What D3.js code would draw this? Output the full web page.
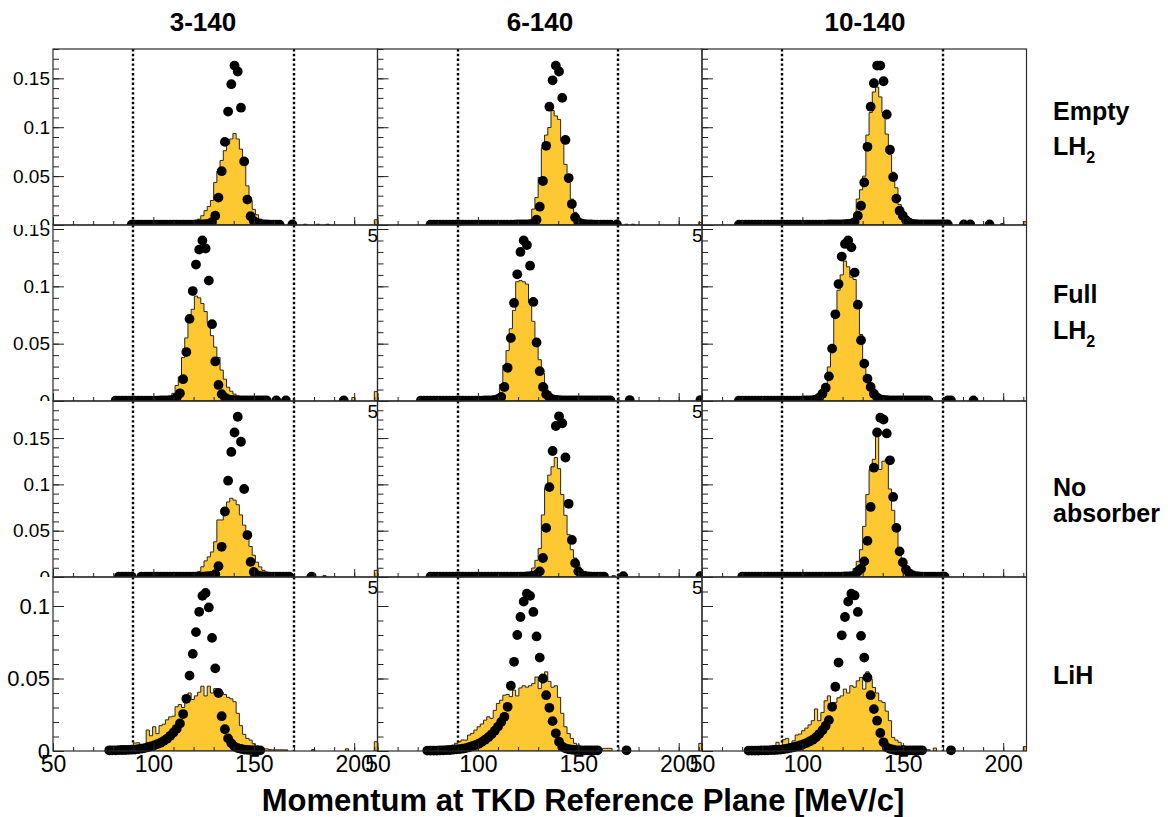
<!DOCTYPE html>
<html><head><meta charset="utf-8">
<script src="https://cdn.jsdelivr.net/npm/d3@7"></script>
<style>html,body{margin:0;padding:0;background:#fff}svg{display:block}</style>
</head><body>
<svg id="c" width="1168" height="817"></svg>
<script>
// ---------------- data ----------------
const colTitles = ["3-140", "6-140", "10-140"];
const rowLabels = [[["Empty", ""], ["LH", "2"]], [["Full", ""], ["LH", "2"]], [["No", ""], ["absorber", ""]], [["LiH", ""]]];
const xTitle = "Momentum at TKD Reference Plane [MeV/c]";
const xTickLabels = [50, 100, 150, 200];
const yTickLabels = [[0, 0.05, 0.1, 0.15], [0, 0.05, 0.1, 0.15], [0, 0.05, 0.1, 0.15], [0, 0.05, 0.1]];
const yMax = [0.18, 0.1535, 0.19, 0.12];
const xDomain = [50, 211.6];
const binWidth = 1.6;
const cuts = [90, 170];

// histograms: [bin low edge, value]
const histR1C1 = [[118.8,.0015],[120.4,.003],[122.0,.006],[123.6,.0095],[125.2,.0146],[126.8,.019],[128.4,.025],[130.0,.0435],[131.6,.055],[133.2,.066],[134.8,.076],[136.4,.083],[138.0,.088],[139.6,.0935],[141.2,.088],[142.8,.0776],[144.4,.062],[146.0,.040],[147.6,.025],[149.2,.016],[150.8,.0105],[152.4,.006],[154.0,.0037],[155.6,.0027],[157.2,.002],[158.8,.0015],[160.4,.001],[162.0,.001],[163.6,.0008],[174.8,.0008],[181.2,.0008],[186.0,.0008],[210.0,.0054]];
const histR1C2 = [[120.4,.001],[122.0,.002],[123.6,.003],[125.2,.0044],[126.8,.0163],[128.4,.028],[130.0,.0486],[131.6,.079],[133.2,.092],[134.8,.0997],[136.4,.117],[138.0,.1116],[139.6,.108],[141.2,.086],[142.8,.062],[144.4,.0435],[146.0,.0265],[147.6,.013],[149.2,.0078],[150.8,.0044],[152.4,.0027],[154.0,.0015],[155.6,.001],[157.2,.001],[158.8,.0008],[173.2,.0008],[176.4,.0008],[210.0,.0027]];
const histR1C3 = [[123.6,.0015],[125.2,.003],[126.8,.0265],[128.4,.036],[130.0,.050],[131.6,.092],[133.2,.115],[134.8,.136],[136.4,.141],[138.0,.131],[139.6,.115],[141.2,.093],[142.8,.072],[144.4,.054],[146.0,.038],[147.6,.021],[149.2,.0095],[150.8,.0044],[152.4,.002],[154.0,.0012],[155.6,.001],[157.2,.0008],[198.8,.0015],[210.0,.0034]];
const histR2C1 = [[104.4,.0015],[106.0,.002],[107.6,.003],[109.2,.0067],[110.8,.0135],[112.4,.021],[114.0,.038],[115.6,.055],[117.2,.069],[118.8,.080],[120.4,.0915],[122.0,.090],[123.6,.085],[125.2,.078],[126.8,.068],[128.4,.057],[130.0,.047],[131.6,.038],[133.2,.027],[134.8,.019],[136.4,.012],[138.0,.0085],[139.6,.006],[141.2,.0045],[142.8,.0035],[144.4,.003],[146.0,.0025],[147.6,.002],[149.2,.002],[150.8,.0015],[152.4,.0015],[154.0,.001],[155.6,.001],[198.8,.003],[210.0,.0082]];
const histR2C2 = [[107.6,.002],[109.2,.004],[110.8,.0145],[112.4,.031],[114.0,.044],[115.6,.063],[117.2,.079],[118.8,.104],[120.4,.105],[122.0,.104],[123.6,.102],[125.2,.086],[126.8,.0695],[128.4,.052],[130.0,.036],[131.6,.024],[133.2,.0137],[134.8,.008],[136.4,.005],[138.0,.0035],[139.6,.003],[141.2,.0025],[142.8,.002],[144.4,.002],[146.0,.0015],[147.6,.0015],[149.2,.001]];
const histR2C3 = [[104.4,.0015],[106.0,.002],[107.6,.003],[109.2,.0093],[110.8,.0137],[112.4,.0297],[114.0,.047],[115.6,.074],[117.2,.0966],[118.8,.110],[120.4,.122],[122.0,.117],[123.6,.108],[125.2,.106],[126.8,.081],[128.4,.058],[130.0,.034],[131.6,.0224],[133.2,.0137],[134.8,.0075],[136.4,.005],[138.0,.0035],[139.6,.0025],[141.2,.002],[142.8,.0015],[144.4,.0015],[146.0,.001]];
const histR3C1 = [[118.8,.002],[120.4,.004],[122.0,.006],[123.6,.011],[125.2,.0174],[126.8,.0217],[128.4,.027],[130.0,.038],[131.6,.0616],[133.2,.0616],[134.8,.072],[136.4,.081],[138.0,.085],[139.6,.083],[141.2,.078],[142.8,.067],[144.4,.056],[146.0,.045],[147.6,.033],[149.2,.0235],[150.8,.016],[152.4,.0109],[154.0,.0072],[155.6,.0054],[157.2,.004],[158.8,.0036],[160.4,.003],[162.0,.003],[163.6,.002],[165.2,.002],[176.4,.0015],[184.4,.0015],[210.0,.0072]];
const histR3C2 = [[123.6,.002],[125.2,.0045],[126.8,.0097],[128.4,.018],[130.0,.0306],[131.6,.067],[133.2,.096],[134.8,.11],[136.4,.119],[138.0,.129],[139.6,.117],[141.2,.089],[142.8,.0666],[144.4,.0457],[146.0,.0295],[147.6,.0205],[149.2,.0133],[150.8,.0079],[152.4,.006],[154.0,.0043],[155.6,.003],[157.2,.0025],[158.8,.002],[166.8,.0015]];
const histR3C3 = [[122.0,.002],[123.6,.004],[125.2,.009],[126.8,.0169],[128.4,.0295],[130.0,.0547],[131.6,.089],[133.2,.116],[134.8,.127],[136.4,.152],[138.0,.116],[139.6,.125],[141.2,.127],[142.8,.095],[144.4,.072],[146.0,.050],[147.6,.031],[149.2,.017],[150.8,.0085],[152.4,.005],[154.0,.0035],[155.6,.0025],[157.2,.002]];
const histR4C1 = [[90.0,.0055],[91.6,.0057],[93.2,.0025],[94.8,.002],[96.4,.0145],[98.0,.0105],[99.6,.0167],[101.2,.012],[102.8,.0175],[104.4,.0185],[106.0,.0215],[107.6,.0235],[109.2,.024],[110.8,.0305],[112.4,.032],[114.0,.030],[115.6,.0355],[117.2,.040],[118.8,.0355],[120.4,.038],[122.0,.0405],[123.6,.0447],[125.2,.038],[126.8,.0447],[128.4,.040],[130.0,.043],[131.6,.0405],[133.2,.0405],[134.8,.039],[136.4,.037],[138.0,.036],[139.6,.034],[141.2,.026],[142.8,.0175],[144.4,.0115],[146.0,.0087],[147.6,.0075],[149.2,.005],[150.8,.0035],[152.4,.0025],[154.0,.0015],[155.6,.0015],[157.2,.001],[158.8,.0008],[160.4,.0008],[162.0,.0008],[163.6,.0008],[165.2,.0008],[178.8,.001],[195.6,.0015],[210.0,.0064]];
const histR4C2 = [[86.8,.004],[88.4,.0053],[90.0,.0064],[91.6,.0076],[93.2,.0075],[94.8,.011],[96.4,.0122],[98.0,.0144],[99.6,.0167],[101.2,.0186],[102.8,.0213],[104.4,.0236],[106.0,.0225],[107.6,.028],[109.2,.0328],[110.8,.035],[112.4,.0385],[114.0,.039],[115.6,.0375],[117.2,.042],[118.8,.038],[120.4,.0435],[122.0,.045],[123.6,.044],[125.2,.045],[126.8,.0465],[128.4,.051],[130.0,.043],[131.6,.047],[133.2,.0546],[134.8,.048],[136.4,.044],[138.0,.045],[139.6,.037],[141.2,.026],[142.8,.0167],[144.4,.012],[146.0,.0087],[147.6,.0053],[149.2,.004],[150.8,.003],[152.4,.003],[154.0,.0015],[155.6,.0015],[157.2,.0015],[158.8,.0015],[162.0,.0018],[163.6,.0018],[165.2,.0018],[210.0,.0053]];
const histR4C3 = [[86.8,.006],[88.4,.0014],[90.0,.0078],[91.6,.0087],[93.2,.005],[94.8,.007],[96.4,.011],[98.0,.0117],[99.6,.014],[101.2,.0158],[102.8,.018],[104.4,.0209],[106.0,.029],[107.6,.0209],[109.2,.0266],[110.8,.0346],[112.4,.038],[114.0,.0323],[115.6,.0335],[117.2,.0367],[118.8,.038],[120.4,.0427],[122.0,.040],[123.6,.045],[125.2,.044],[126.8,.0484],[128.4,.0507],[130.0,.0427],[131.6,.0546],[133.2,.0495],[134.8,.0438],[136.4,.040],[138.0,.0346],[139.6,.0335],[141.2,.0275],[142.8,.0209],[144.4,.0094],[146.0,.0075],[147.6,.006],[149.2,.0037],[150.8,.0025],[152.4,.0018],[154.0,.0018],[155.6,.0009],[157.2,.0009],[158.8,.0009],[160.4,.0009],[162.0,.0009],[165.2,.002],[210.0,.003]];

// markers: [momentum, value]
const dotsR1C1 = [[89.2,.0004],[90.8,.0004],[92.4,.0004],[94.0,.0004],[95.6,.0004],[97.2,.0004],[98.8,.0004],[100.4,.0004],[102.0,.0004],[103.6,.0004],[105.2,.0004],[106.8,.0004],[108.4,.0004],[110.0,.0004],[111.6,.0004],[113.2,.0004],[114.8,.0004],[116.4,.0004],[118.0,.0004],[119.6,.0004],[121.2,.0005],[122.8,.0005],[124.4,.0006],[126.0,.0008],[127.6,.0012],[129.2,.003],[130.8,.0095],[132.4,.028],[134.0,.055],[135.6,.085],[137.2,.116],[138.8,.144],[140.4,.163],[142.0,.157],[143.6,.120],[145.2,.065],[146.8,.026],[148.4,.009],[150.0,.004],[151.6,.002],[153.2,.001],[154.8,.0007],[156.4,.0005],[158.0,.0004],[159.6,.0004],[161.2,.0004],[162.8,.0004],[169.2,.0005]];
const dotsR1C2 = [[76.4,.0004],[78.0,.0004],[79.6,.0004],[81.2,.0004],[82.8,.0004],[84.4,.0004],[86.0,.0004],[87.6,.0004],[89.2,.0004],[90.8,.0004],[92.4,.0004],[94.0,.0004],[95.6,.0004],[97.2,.0004],[98.8,.0004],[100.4,.0004],[102.0,.0004],[103.6,.0004],[105.2,.0004],[106.8,.0004],[108.4,.0004],[110.0,.0004],[111.6,.0004],[113.2,.0004],[114.8,.0004],[116.4,.0004],[118.0,.0004],[119.6,.0005],[121.2,.0005],[122.8,.0006],[124.4,.0007],[126.0,.0009],[127.6,.0015],[129.2,.0054],[130.8,.0187],[132.4,.045],[134.0,.081],[135.6,.121],[137.2,.148],[138.8,.163],[140.4,.157],[142.0,.130],[143.6,.087],[145.2,.048],[146.8,.0214],[148.4,.0078],[150.0,.003],[151.6,.0015],[153.2,.0008],[154.8,.0005],[156.4,.0005],[158.0,.0004],[159.6,.0004],[161.2,.0004],[162.8,.0004],[164.4,.0004],[166.0,.0004],[169.2,.0006]];
const dotsR1C3 = [[68.4,.0004],[70.0,.0004],[71.6,.0004],[73.2,.0004],[74.8,.0004],[76.4,.0004],[78.0,.0004],[79.6,.0004],[81.2,.0004],[82.8,.0004],[84.4,.0004],[86.0,.0004],[87.6,.0004],[89.2,.0004],[90.8,.0004],[92.4,.0004],[94.0,.0004],[95.6,.0004],[97.2,.0004],[98.8,.0004],[100.4,.0004],[102.0,.0004],[103.6,.0004],[105.2,.0004],[106.8,.0004],[108.4,.0004],[110.0,.0004],[111.6,.0004],[113.2,.0005],[114.8,.0005],[116.4,.0005],[118.0,.0006],[119.6,.0006],[121.2,.0008],[122.8,.001],[124.4,.0015],[126.0,.003],[127.6,.0095],[129.2,.0197],[130.8,.0435],[132.4,.080],[134.0,.121],[135.6,.145],[137.2,.163],[138.8,.163],[140.4,.147],[142.0,.113],[143.6,.077],[145.2,.049],[146.8,.027],[148.4,.0146],[150.0,.0095],[151.6,.005],[153.2,.0025],[154.8,.0012],[156.4,.0008],[158.0,.0006],[159.6,.0005],[161.2,.0005],[162.8,.0005],[164.4,.0005],[166.0,.0005],[167.6,.0005],[169.2,.0005],[170.8,.0005],[172.4,.0005],[180.4,.0005],[183.6,.0005],[193.2,.0005]];
const dotsR2C1 = [[81.2,.0004],[82.8,.0004],[84.4,.0004],[86.0,.0004],[87.6,.0004],[89.2,.0004],[90.8,.0004],[92.4,.0004],[94.0,.0004],[95.6,.0004],[97.2,.0004],[98.8,.0004],[100.4,.0004],[102.0,.0004],[103.6,.0005],[105.2,.0005],[106.8,.0006],[108.4,.0008],[110.0,.0012],[111.6,.003],[113.2,.0067],[114.8,.019],[116.4,.0427],[118.0,.0716],[119.6,.0959],[121.2,.119],[122.8,.132],[124.4,.140],[126.0,.133],[127.6,.105],[129.2,.067],[130.8,.0345],[132.4,.014],[134.0,.006],[135.6,.003],[137.2,.0015],[138.8,.001],[140.4,.0008],[142.0,.0006],[143.6,.0005],[145.2,.0005],[146.8,.0005],[148.4,.0005],[150.0,.0005],[151.6,.0005],[153.2,.0005],[154.8,.0005],[156.4,.0005],[161.2,.0005],[166.0,.0005],[194.8,.0005]];
const dotsR2C2 = [[71.6,.0004],[73.2,.0004],[74.8,.0004],[76.4,.0004],[78.0,.0004],[79.6,.0004],[81.2,.0004],[82.8,.0004],[84.4,.0004],[86.0,.0004],[87.6,.0004],[89.2,.0004],[90.8,.0004],[92.4,.0004],[94.0,.0004],[95.6,.0004],[97.2,.0004],[98.8,.0004],[100.4,.0004],[102.0,.0004],[103.6,.0005],[105.2,.0005],[106.8,.0006],[108.4,.0009],[110.0,.0018],[111.6,.0035],[113.2,.0122],[114.8,.029],[116.4,.055],[118.0,.0855],[119.6,.1105],[121.2,.130],[122.8,.140],[124.4,.136],[126.0,.118],[127.6,.0864],[129.2,.051],[130.8,.026],[132.4,.0122],[134.0,.0058],[135.6,.003],[137.2,.0015],[138.8,.001],[140.4,.0008],[142.0,.0006],[143.6,.0005],[145.2,.0005],[146.8,.0005],[148.4,.0005],[150.0,.0005],[151.6,.0005],[153.2,.0005],[154.8,.0005],[156.4,.0005],[158.0,.0005],[159.6,.0005],[161.2,.0005],[162.8,.0005],[164.4,.0005],[166.0,.0005],[175.6,.0008],[210.8,.0008]];
const dotsR2C3 = [[68.4,.0004],[70.0,.0004],[71.6,.0004],[73.2,.0004],[74.8,.0004],[76.4,.0004],[78.0,.0004],[79.6,.0004],[81.2,.0004],[82.8,.0004],[84.4,.0004],[86.0,.0004],[87.6,.0004],[89.2,.0004],[90.8,.0004],[92.4,.0004],[94.0,.0004],[95.6,.0004],[97.2,.0004],[98.8,.0004],[100.4,.0005],[102.0,.0005],[103.6,.0006],[105.2,.0008],[106.8,.0012],[108.4,.003],[110.0,.0064],[111.6,.0116],[113.2,.0215],[114.8,.0457],[116.4,.0756],[118.0,.102],[119.6,.126],[121.2,.137],[122.8,.140],[124.4,.134],[126.0,.112],[127.6,.084],[129.2,.053],[130.8,.0326],[132.4,.0195],[134.0,.0122],[135.6,.0064],[137.2,.003],[138.8,.0015],[140.4,.001],[142.0,.0007],[143.6,.0005],[145.2,.0005],[146.8,.0005],[148.4,.0005],[150.0,.0005],[151.6,.0005],[153.2,.0005],[154.8,.0005],[156.4,.0005],[158.0,.0005],[159.6,.0005],[161.2,.0005],[162.8,.0005],[172.4,.0005],[174.0,.0005],[185.2,.0005]];
const dotsR3C1 = [[82.8,.0004],[84.4,.0004],[86.0,.0004],[87.6,.0004],[89.2,.0004],[94.0,.0004],[95.6,.0004],[97.2,.0004],[98.8,.0004],[100.4,.0004],[102.0,.0004],[103.6,.0004],[105.2,.0004],[106.8,.0004],[108.4,.0004],[110.0,.0004],[111.6,.0004],[113.2,.0004],[114.8,.0004],[116.4,.0004],[118.0,.0004],[119.6,.0004],[121.2,.0004],[122.8,.0005],[124.4,.0005],[126.0,.0006],[127.6,.0008],[129.2,.0012],[130.8,.003],[132.4,.0116],[134.0,.0326],[135.6,.0707],[137.2,.104],[138.8,.135],[140.4,.156],[142.0,.173],[143.6,.146],[145.2,.095],[146.8,.0453],[148.4,.0163],[150.0,.0054],[151.6,.002],[153.2,.001],[154.8,.0007],[156.4,.0005],[158.0,.0005],[159.6,.0005],[161.2,.0005],[162.8,.0005],[164.4,.0005],[166.0,.0005],[167.6,.0005],[178.8,.0005]];
const dotsR3C2 = [[76.4,.0004],[78.0,.0004],[79.6,.0004],[81.2,.0004],[82.8,.0004],[84.4,.0004],[86.0,.0004],[87.6,.0004],[89.2,.0004],[90.8,.0004],[92.4,.0004],[94.0,.0004],[95.6,.0004],[97.2,.0004],[98.8,.0004],[100.4,.0004],[102.0,.0004],[103.6,.0004],[105.2,.0004],[106.8,.0004],[108.4,.0004],[110.0,.0004],[111.6,.0004],[113.2,.0004],[114.8,.0004],[116.4,.0004],[118.0,.0004],[119.6,.0004],[121.2,.0005],[122.8,.0005],[124.4,.0006],[126.0,.0008],[127.6,.0012],[129.2,.0025],[130.8,.0061],[132.4,.0205],[134.0,.053],[135.6,.097],[137.2,.136],[138.8,.163],[140.4,.1735],[142.0,.166],[143.6,.129],[145.2,.079],[146.8,.040],[148.4,.015],[150.0,.0061],[151.6,.002],[153.2,.001],[154.8,.0007],[156.4,.0005],[158.0,.0005],[159.6,.0005],[161.2,.0005],[162.8,.0005],[172.4,.0008],[210.8,.0008]];
const dotsR3C3 = [[70.0,.0004],[71.6,.0004],[73.2,.0004],[74.8,.0004],[76.4,.0004],[78.0,.0004],[79.6,.0004],[81.2,.0004],[82.8,.0004],[84.4,.0004],[86.0,.0004],[87.6,.0004],[89.2,.0004],[90.8,.0004],[92.4,.0004],[94.0,.0004],[95.6,.0004],[97.2,.0004],[98.8,.0004],[100.4,.0004],[102.0,.0004],[103.6,.0004],[105.2,.0004],[106.8,.0004],[108.4,.0004],[110.0,.0004],[111.6,.0004],[113.2,.0004],[114.8,.0004],[116.4,.0004],[118.0,.0005],[119.6,.0005],[121.2,.0006],[122.8,.0007],[124.4,.001],[126.0,.0015],[127.6,.006],[129.2,.009],[130.8,.0169],[132.4,.039],[134.0,.0756],[135.6,.118],[137.2,.156],[138.8,.172],[140.4,.170],[142.0,.155],[143.6,.126],[145.2,.0864],[146.8,.053],[148.4,.0277],[150.0,.0158],[151.6,.008],[153.2,.004],[154.8,.002],[156.4,.001],[158.0,.0007],[159.6,.0005],[161.2,.0005],[162.8,.0005],[164.4,.0005],[166.0,.0005],[167.6,.0005],[169.2,.0005],[170.8,.0005]];
const dotsR4C1 = [[78.0,.0005],[79.6,.0005],[81.2,.0005],[82.8,.0006],[84.4,.0007],[86.0,.0007],[87.6,.0008],[89.2,.0009],[90.8,.001],[92.4,.0013],[94.0,.0016],[95.6,.002],[97.2,.0026],[98.8,.0032],[100.4,.0039],[102.0,.0048],[103.6,.0057],[105.2,.007],[106.8,.0085],[108.4,.0105],[110.0,.0128],[111.6,.0153],[113.2,.019],[114.8,.0255],[116.4,.036],[118.0,.052],[119.6,.067],[121.2,.082],[122.8,.096],[124.4,.107],[126.0,.109],[127.6,.099],[129.2,.078],[130.8,.057],[132.4,.040],[134.0,.024],[135.6,.015],[137.2,.0087],[138.8,.0053],[140.4,.003],[142.0,.002],[143.6,.0015],[145.2,.001],[146.8,.0008],[148.4,.0006],[150.0,.0005],[151.6,.0005],[153.2,.0005]];
const dotsR4C2 = [[74.8,.0003],[76.4,.0003],[78.0,.0003],[79.6,.0003],[81.2,.0004],[82.8,.0005],[84.4,.0006],[86.0,.0007],[87.6,.0009],[89.2,.0011],[90.8,.0013],[92.4,.0016],[94.0,.002],[95.6,.0026],[97.2,.0033],[98.8,.0041],[100.4,.005],[102.0,.0063],[103.6,.0078],[105.2,.0095],[106.8,.0115],[108.4,.014],[110.0,.0168],[111.6,.020],[113.2,.0236],[114.8,.0305],[116.4,.045],[118.0,.0615],[119.6,.080],[121.2,.0924],[122.8,.103],[124.4,.1085],[126.0,.107],[127.6,.0959],[129.2,.079],[130.8,.0644],[132.4,.050],[134.0,.0385],[135.6,.0298],[137.2,.0206],[138.8,.0122],[140.4,.0064],[142.0,.003],[143.6,.0018],[145.2,.0012],[146.8,.0009],[148.4,.0007],[150.0,.0006],[151.6,.0005],[153.2,.0005],[154.8,.0005],[156.4,.0005],[158.0,.0005],[159.6,.0005],[174.0,.0005]];
const dotsR4C3 = [[73.2,.0003],[74.8,.0003],[76.4,.0003],[78.0,.0003],[79.6,.0004],[81.2,.0004],[82.8,.0005],[84.4,.0006],[86.0,.0007],[87.6,.0008],[89.2,.001],[90.8,.0013],[92.4,.0017],[94.0,.0021],[95.6,.0026],[97.2,.0032],[98.8,.0038],[100.4,.0046],[102.0,.0055],[103.6,.0066],[105.2,.0078],[106.8,.0095],[108.4,.0117],[110.0,.0143],[111.6,.0174],[113.2,.0213],[114.8,.0305],[116.4,.0443],[118.0,.061],[119.6,.0798],[121.2,.0924],[122.8,.103],[124.4,.1085],[126.0,.1073],[127.6,.0959],[129.2,.0794],[130.8,.0644],[132.4,.0507],[134.0,.0385],[135.6,.0289],[137.2,.0209],[138.8,.0124],[140.4,.006],[142.0,.0025],[143.6,.0015],[145.2,.001],[146.8,.0005],[148.4,.0005],[150.0,.0005],[151.6,.0005],[153.2,.0005],[154.8,.0005],[156.4,.0005],[158.0,.0005],[159.6,.0005],[174.0,.0005]];

const panelHists = [[histR1C1, histR1C2, histR1C3], [histR2C1, histR2C2, histR2C3], [histR3C1, histR3C2, histR3C3], [histR4C1, histR4C2, histR4C3]];
const panelDots = [[dotsR1C1, dotsR1C2, dotsR1C3], [dotsR2C1, dotsR2C2, dotsR2C3], [dotsR3C1, dotsR3C2, dotsR3C3], [dotsR4C1, dotsR4C2, dotsR4C3]];

// ---------------- layout / drawing ----------------
const FONT = "'Liberation Sans', Arial, Helvetica, sans-serif";
const colLeft = [53, 377.5, 702], plotW = 324.5;
const rowTop = [49, 225, 401, 577], rowBottom = [225, 401, 577, 751];
const FILL = "#fec833";

const svg = d3.select("#c");
svg.append("rect").attr("width", 1168).attr("height", 817).attr("fill", "#fff");
const defs = svg.append("defs");
let clipN = 0;
function clip(x, y, w, h) {
  const id = "clp" + (clipN++);
  defs.append("clipPath").attr("id", id).append("rect").attr("x", x).attr("y", y).attr("width", w).attr("height", h);
  return `url(#${id})`;
}
function styleAxis(sel, size) {
  sel.attr("font-family", FONT).attr("font-size", size).attr("color", "#000");
  sel.select(".domain").remove();
  sel.selectAll(".tick line").attr("stroke", "#222").attr("stroke-width", 1);
}

for (let r = 0; r < 4; r++) {
  for (let c = 0; c < 3; c++) {
    const L = colLeft[c], T = rowTop[r], B = rowBottom[r];
    const x = d3.scaleLinear().domain(xDomain).range([L, L + plotW]);
    const y = d3.scaleLinear().domain([0, yMax[r]]).range([B, T]);
    const g = svg.append("g");

    // histogram (filled steps)
    const plot = g.append("g").attr("clip-path", clip(L, T, plotW, B - T));
    const bins = panelHists[r][c].slice().sort((a, b) => a[0] - b[0]);
    let d = "", prevHi = null;
    bins.forEach((b) => {
      const lo = b[0], hi = b[0] + binWidth;
      if (prevHi === null || Math.abs(lo - prevHi) > 1e-6) {
        if (prevHi !== null) d += `L${x(prevHi)},${y(0)}Z`;
        d += `M${x(lo)},${y(0)}L${x(lo)},${y(b[1])}`;
      } else {
        d += `L${x(lo)},${y(b[1])}`;
      }
      d += `L${x(hi)},${y(b[1])}`;
      prevHi = hi;
    });
    if (prevHi !== null) d += `L${x(prevHi)},${y(0)}Z`;
    plot.append("path").attr("d", d).attr("fill", FILL).attr("stroke", "#262626").attr("stroke-width", 1).attr("stroke-linejoin", "miter");

    // cut lines (dotted)
    plot.selectAll("line.cut").data(cuts).join("line").attr("class", "cut")
      .attr("x1", v => Math.round(x(v))).attr("x2", v => Math.round(x(v))).attr("y1", T).attr("y2", B)
      .attr("stroke", "#000").attr("stroke-width", 2.4).attr("stroke-dasharray", "2.4,2.4");

    // markers
    const dg = g.append("g").attr("clip-path", clip(L, T, plotW, B - T + (r === 3 ? 6 : 0)));
    dg.selectAll("circle").data(panelDots[r][c]).join("circle")
      .attr("cx", p => x(p[0])).attr("cy", p => y(p[1])).attr("r", 4.9).attr("fill", "#000");

    // y ticks (inside)
    const yMinor = d3.range(0, yMax[r] + 1e-9, 0.01);
    g.append("g").attr("transform", `translate(${L},0)`)
      .call(d3.axisLeft(y).tickValues(yMinor).tickSize(-6).tickFormat(""))
      .call(s => styleAxis(s, 10));
    g.append("g").attr("transform", `translate(${L},0)`)
      .call(d3.axisLeft(y).tickValues(yTickLabels[r]).tickSize(-11).tickFormat(""))
      .call(s => styleAxis(s, 10));

    // x ticks (inside)
    g.append("g").attr("transform", `translate(0,${B})`)
      .call(d3.axisBottom(x).tickValues(d3.range(50, 211, 10)).tickSize(-4).tickFormat(""))
      .call(s => styleAxis(s, 10));
    g.append("g").attr("transform", `translate(0,${B})`)
      .call(d3.axisBottom(x).tickValues(xTickLabels).tickSize(-8).tickFormat(""))
      .call(s => styleAxis(s, 10));

    // frame
    g.append("rect").attr("x", L).attr("y", T).attr("width", plotW).attr("height", B - T)
      .attr("fill", "none").attr("stroke", "#2a2a2a").attr("stroke-width", 1.2);

    // y labels (left column only, clipped to own row)
    if (c === 0) {
      const fs = r === 3 ? 22 : 19;
      svg.append("g").attr("clip-path", clip(0, T, L, (r === 3 ? 817 : B) - T))
        .append("g").attr("transform", `translate(${L},0)`)
        .call(d3.axisLeft(y).tickValues(yTickLabels[r]).tickSize(0).tickPadding(3).tickFormat(v => String(v)))
        .call(s => styleAxis(s, fs));
    }
    // x labels
    if (r === 3) {
      svg.append("g").attr("transform", `translate(0,${B})`)
        .call(d3.axisBottom(x).tickValues(xTickLabels).tickSize(0).tickPadding(5).tickFormat(v => String(v)))
        .call(s => styleAxis(s, 23));
    } else if (c > 0) {
      // only the overflowing part of the first label shows beside the neighbouring pad
      svg.append("g").attr("clip-path", clip(L - 14, B, 14, 30))
        .append("g").attr("transform", `translate(0,${B})`)
        .call(d3.axisBottom(x).tickValues(xTickLabels).tickSize(0).tickPadding(3.5).tickFormat(v => String(v)))
        .call(s => styleAxis(s, 19));
    }
  }
}

// column titles
const titleX = [203, 540, 865];
svg.selectAll("text.coltitle").data(colTitles).join("text").attr("class", "coltitle")
  .attr("x", (t, i) => titleX[i]).attr("y", 31).attr("text-anchor", "middle")
  .attr("font-family", FONT).attr("font-weight", "bold").attr("font-size", 26).attr("fill", "#000")
  .text(t => t);

// row labels
const rowBase = [[120, 155], [303, 339], [496, 522], [684]];
rowLabels.forEach((lines, r) => {
  lines.forEach((ln, k) => {
    const t = svg.append("text").attr("x", 1053).attr("y", rowBase[r][k])
      .attr("font-family", FONT).attr("font-weight", "bold").attr("font-size", 25).attr("fill", "#000");
    t.append("tspan").text(ln[0]);
    if (ln[1]) t.append("tspan").attr("font-size", 16).attr("dy", 8).text(ln[1]);
  });
});

// x axis title
svg.append("text").attr("x", 583).attr("y", 811).attr("text-anchor", "middle")
  .attr("font-family", FONT).attr("font-weight", "bold").attr("font-size", 31).attr("fill", "#000")
  .text(xTitle);
</script>
</body></html>
